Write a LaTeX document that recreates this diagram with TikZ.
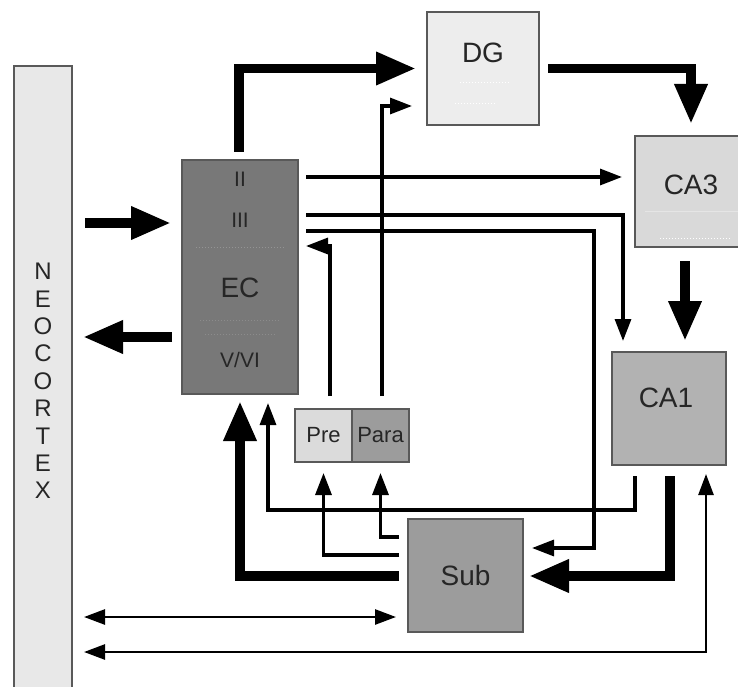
\documentclass[tikz,border=0pt]{standalone}
\usepackage{fontspec}
\setmainfont{Liberation Sans}
\usetikzlibrary{arrows.meta}

\begin{document}
\begin{tikzpicture}[x=1pt, y=-1pt,
    box/.style={draw=black!65, line width=2pt, inner sep=0pt, text=black!85},
    lbl/.style={text=black!85, inner sep=0pt},
    bigarrow/.style={line width=9.5pt, -{Triangle[length=40pt,width=31pt]}},
    smallarrow/.style={line width=3.2pt, -{Triangle[length=22pt,width=16pt]}},
    longarrow/.style={line width=2.6pt, {Triangle[length=21pt,width=15pt]}-{Triangle[length=21pt,width=15pt]}},
    layer/.style={dotted, line width=1pt}]
        \useasboundingbox (0,0) rectangle (738,687);
        \clip (0,0) rectangle (738,687);

        % 新皮层
        \node[box, fill=black!9, minimum width=58pt, minimum height=630pt, align=center,
              font=\fontsize{24}{27.4}\selectfont] (neo) at (43,381) {N\\E\\O\\C\\O\\R\\T\\E\\X};

        % 内嗅皮层 EC
        \node[box, fill=black!53, minimum width=116pt, minimum height=234pt] (EC) at (240,277) {};
        \node[lbl, font=\fontsize{21}{24}\selectfont] (ecII) at (240,179) {II};
        \node[lbl, font=\fontsize{21}{24}\selectfont] (ecIII) at (240,220) {III};
        \node[lbl, font=\fontsize{28}{32}\selectfont] (ecname) at (240,288) {EC};
        \node[lbl, font=\fontsize{21}{24}\selectfont] (ecV) at (240,360) {V/VI};
        \draw[layer, black!42] (196,247) -- (284,247);
        \draw[layer, black!45] (200,320) -- (280,320);
        \draw[layer, black!45] (205,334) -- (275,334);

        % 海马各区
        \node[box, fill=black!7, minimum width=112pt, minimum height=113pt] (DG) at (483,68.5) {};
        \node[lbl, font=\fontsize{28}{32}\selectfont] (dglabel) at (483,53) {DG};
        \draw[layer, white] (460,83) -- (510,83);
        \draw[layer, white] (455,104) -- (495,104);
        \node[box, fill=black!15, minimum width=112pt, minimum height=111pt] (CA3) at (691,191.5) {};
        \node[lbl, font=\fontsize{28}{32}\selectfont] (ca3label) at (691,185) {CA3};
        \draw[black!10, line width=1pt] (645,211) -- (738,211);
        \draw[layer, white] (660,238) -- (730,238);
        \node[box, fill=black!30, minimum width=114pt, minimum height=113pt] (CA1) at (669,408.5) {};
        \node[lbl, font=\fontsize{28}{32}\selectfont] (ca1label) at (666,398) {CA1};
        \node[box, fill=black!39, minimum width=115pt, minimum height=113pt,
              font=\fontsize{28}{32}\selectfont] (Sub) at (465.5,575.5) {Sub};

        % 前下托 / 旁下托
        \node[box, fill=black!14, minimum width=57pt, minimum height=53pt,
              font=\fontsize{22}{26}\selectfont] (Pre) at (323.5,435.5) {Pre};
        \node[box, fill=black!39, minimum width=57pt, minimum height=53pt,
              font=\fontsize{22}{26}\selectfont] (Para) at (380.5,435.5) {Para};

        % 新皮层 <-> EC
        \draw[bigarrow, shorten <=12pt, shorten >=10pt] (neo.east |- 0,223) -- (EC.west |- 0,223);
        \draw[bigarrow, shorten <=9pt, shorten >=10pt] (EC.west |- 0,337) -- (neo.east |- 0,337);

        % 穿通通路
        \draw[bigarrow, shorten <=7pt, shorten >=10pt] (EC.north -| 239,0) |- (DG.west);
        \draw[smallarrow, shorten <=12pt, shorten >=14pt] (Para.north -| 382,0) |- (DG.west |- 0,106);
        \draw[bigarrow, shorten <=8pt, shorten >=11pt] (DG.east) -| (CA3.north);
        \draw[smallarrow, shorten <=7pt, shorten >=12pt] (EC.east |- 0,177) -- (CA3.west |- 0,177);
        \draw[smallarrow, shorten <=7pt, shorten >=10pt] (EC.east |- 0,215) -| ([xshift=12pt]CA1.north west);
        \draw[smallarrow, shorten <=7pt, shorten >=8pt] (EC.east |- 0,231) -| (594,548) -- (Sub.east |- 0,548);
        \draw[smallarrow, shorten <=12pt, shorten >=7pt] (Pre.north -| 330,0) |- (EC.east |- 0,246);

        % CA3 -> CA1
        \draw[bigarrow, shorten <=13pt, shorten >=10pt] (CA3.south -| 685,0) -- (CA1.north -| 685,0);

        % 返回通路
        \draw[smallarrow, shorten <=10pt, shorten >=8pt] (CA1.south -| 635,0) |- (268,510) -- (EC.south -| 268,0);
        \draw[bigarrow, shorten <=10pt, shorten >=5pt] (CA1.south -| 670,0) |- (Sub.east |- 0,576);
        \draw[bigarrow, shorten <=8pt, shorten >=6pt] (Sub.west |- 0,576) -| (EC.south -| 240,0);
        \draw[smallarrow, shorten <=8pt, shorten >=10pt] (Sub.west |- 0,555) -| (Pre.south);
        \draw[smallarrow, shorten <=8pt, shorten >=10pt] (Sub.west |- 0,537) -| (Para.south);

        % 与新皮层的直接联系
        \draw[longarrow, shorten <=11pt, shorten >=11pt] (neo.east |- 0,617) -- (Sub.west |- 0,617);
        \draw[longarrow, shorten <=11pt, shorten >=8pt] (neo.east |- 0,652) -| (CA1.south -| 706,0);
    \end{tikzpicture}
\end{document}
